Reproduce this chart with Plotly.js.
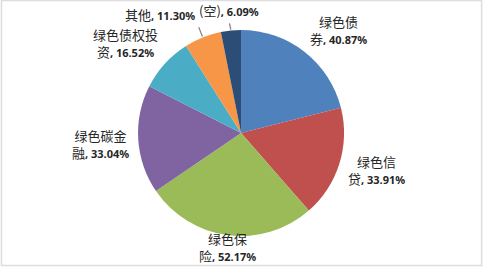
<!DOCTYPE html>
<html><head><meta charset="utf-8">
<script src="https://cdn.plot.ly/plotly-3.0.1.min.js"></script>
<style>html,body{margin:0;padding:0;background:#fff}#chart{width:485px;height:269px}</style>
</head><body><div id="chart"></div>
<script>
const categories = ['绿色债券','绿色信贷','绿色保险','绿色碳金融','绿色债权投资','其他','(空)'];
const values = [40.87, 33.91, 52.17, 33.04, 16.52, 11.30, 6.09];
const lineBreakAt = [3, 3, 3, 4, 5, 0, 0];
const colors = ['#4F81BD','#C0504D','#9BBB59','#8064A2','#4BACC6','#F79646','#2C4D75'];

const W = 485, H = 269;
const dom = {x: [0, 0.994], y: [33 / H, 239 / H]};
const cx = W * (dom.x[0] + dom.x[1]) / 2;
const cy = H * (1 - (dom.y[0] + dom.y[1]) / 2);
const R = Math.min(W * (dom.x[1] - dom.x[0]), H * (dom.y[1] - dom.y[0])) / 2;
const FS = 13;
const labelDrop = 4;

const numStyle = '<span style="font-family:\'Noto Sans\',sans-serif;font-size:11px;font-weight:bold">';
const texts = categories.map((c, i) => {
  const v = numStyle + ', ' + values[i].toFixed(2) + '%</span>';
  const b = lineBreakAt[i];
  return b ? c.slice(0, b) + '<br>' + c.slice(b) + v : c + v;
});

const total = values.reduce((a, b) => a + b, 0);
const annotations = [];
const shapes = [{type: 'rect', xref: 'paper', yref: 'paper', x0: 0.003, x1: 0.993, y0: 0.013, y1: 0.998,
  line: {color: '#DDDDDD', width: 1.5}}];
let cum = 0;
values.forEach((v, i) => {
  const span = v / total * 2 * Math.PI;
  const mid = (cum + v / 2) / total * 2 * Math.PI;
  cum += v;
  const small = span < 25 * Math.PI / 180;
  const gap = small ? 18 : 8;
  const s = Math.sin(mid), c = Math.cos(mid);
  let px = cx + (R + gap) * s, py = cy - (R + gap) * c + labelDrop;
  const xa = s > 0.35 ? 'left' : (s < -0.35 ? 'right' : 'center');
  const ya = c > 0.35 ? 'bottom' : (c < -0.35 ? 'top' : 'middle');
  const nLines = lineBreakAt[i] ? 2 : 1;
  const h = (nLines - 1) * 1.3 * FS + 1.45 * FS;
  let top = ya === 'top' ? py : (ya === 'bottom' ? py - h : py - h / 2);
  if (top < 2) py += 2 - top;
  if (top + h > H - 5) py -= top + h - (H - 5);
  annotations.push({
    xref: 'paper', yref: 'paper', x: px / W, y: 1 - py / H,
    xanchor: xa, yanchor: ya,
    text: texts[i], showarrow: false, align: 'center', borderpad: 0,
    font: {family: 'Noto Sans CJK SC, sans-serif', size: FS, color: '#262626'}
  });
  if (small) {
    const ex = cx + (R + 1) * s, ey = cy - (R + 1) * c;
    const lx = px + (xa === 'right' ? 2 : 0), ly = py + 1;
    annotations.push({
      xref: 'paper', yref: 'paper', x: ex / W, y: 1 - ey / H,
      axref: 'pixel', ayref: 'pixel', ax: lx - ex, ay: ly - ey,
      text: '', showarrow: true, arrowhead: 0, arrowwidth: 1.2, arrowcolor: '#7F7F7F',
      standoff: 0, startstandoff: 0
    });
  }
});

const trace = {
  type: 'pie',
  labels: categories,
  values: values,
  textinfo: 'none',
  sort: false,
  direction: 'clockwise',
  rotation: 0,
  marker: {colors: colors, line: {width: 0}},
  domain: dom,
  hoverinfo: 'none',
  showlegend: false
};

const layout = {
  width: W, height: H,
  margin: {l: 0, r: 0, t: 0, b: 0},
  paper_bgcolor: '#ffffff',
  showlegend: false,
  annotations: annotations,
  shapes: shapes
};

Plotly.newPlot('chart', [trace], layout, {displayModeBar: false, staticPlot: true});
</script></body></html>
